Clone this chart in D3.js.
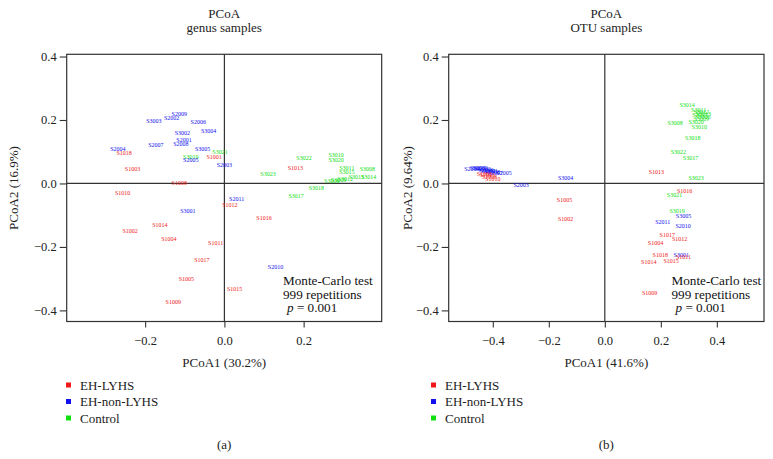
<!DOCTYPE html>
<html><head><meta charset="utf-8">
<script src="https://cdn.jsdelivr.net/npm/d3@7"></script>
<style>
body{margin:0;background:#fff;}
svg text{font-family:"Liberation Serif","DejaVu Serif",serif;}
</style></head>
<body><svg id="c" width="773" height="459"></svg>
<script>
const groups = ["EH-LYHS","EH-non-LYHS","Control"];
const groupColors = ["#f01818","#1010f0","#10e010"];
const ticksX_A = [-0.2,0.0,0.2];
const ticksX_B = [-0.4,-0.2,0.0,0.2,0.4];
const ticksY = [-0.4,-0.2,0.0,0.2,0.4];

// [label, group index, PCoA1, PCoA2]
const genusSamples = [
 ["S2009",1,-0.114,0.218],["S2002",1,-0.133,0.208],["S3003",1,-0.178,0.198],["S2006",1,-0.066,0.194],
 ["S3004",1,-0.040,0.165],["S3002",1,-0.106,0.158],["S2001",1,-0.102,0.138],["S2008",1,-0.110,0.126],
 ["S2007",1,-0.173,0.120],["S2004",1,-0.269,0.110],["S1018",0,-0.253,0.097],["S3005",1,-0.055,0.110],
 ["S3021",2,-0.011,0.099],["S1001",0,-0.026,0.084],["S3019",2,-0.085,0.083],["S2005",1,-0.085,0.075],
 ["S2003",1,0.000,0.058],["S1003",0,-0.232,0.047],["S1008",0,-0.114,0.003],["S1010",0,-0.257,-0.030],
 ["S2011",1,0.031,-0.048],["S1012",0,0.014,-0.069],["S3001",1,-0.092,-0.085],["S1016",0,0.100,-0.108],
 ["S1014",0,-0.163,-0.132],["S1002",0,-0.238,-0.148],["S1004",0,-0.140,-0.174],["S1011",0,-0.022,-0.187],
 ["S1017",0,-0.057,-0.240],["S2010",1,0.129,-0.262],["S1005",0,-0.096,-0.302],["S1015",0,0.026,-0.331],
 ["S1009",0,-0.129,-0.373],["S3022",2,0.201,0.079],["S3010",2,0.282,0.091],["S3020",2,0.282,0.075],
 ["S1013",0,0.179,0.050],["S3011",2,0.309,0.050],["S3015",2,0.309,0.037],["S3008",2,0.361,0.045],
 ["S3023",2,0.110,0.029],["S3014",2,0.364,0.020],["S3013",2,0.333,0.021],["S3012",2,0.305,0.014],
 ["S3009",2,0.288,0.010],["S3006",2,0.271,0.007],["S3018",2,0.232,-0.013],["S3017",2,0.181,-0.040]
];
const otuSamples = [
 ["S2004",1,-0.475,0.046],["S3003",1,-0.455,0.050],["S2009",1,-0.445,0.049],["S2002",1,-0.435,0.046],
 ["S2006",1,-0.425,0.043],["S3002",1,-0.418,0.040],["S2001",1,-0.410,0.038],["S2008",1,-0.402,0.036],
 ["S2007",1,-0.392,0.034],["S2005",1,-0.360,0.034],["S1001",0,-0.430,0.030],["S1003",0,-0.420,0.026],
 ["S1008",0,-0.412,0.022],["S1010",0,-0.400,0.013],["S2003",1,-0.299,-0.005],["S3004",1,-0.140,0.017],
 ["S1005",0,-0.144,-0.053],["S1002",0,-0.140,-0.113],["S1013",0,0.184,0.037],["S1016",0,0.285,-0.024],
 ["S3021",2,0.249,-0.035],["S3019",2,0.258,-0.085],["S3005",1,0.281,-0.102],["S2011",1,0.207,-0.120],
 ["S2010",1,0.280,-0.133],["S1017",0,0.223,-0.161],["S1012",0,0.267,-0.175],["S1004",0,0.181,-0.186],
 ["S1018",0,0.198,-0.226],["S3001",1,0.273,-0.224],["S1011",0,0.281,-0.232],["S1014",0,0.157,-0.246],
 ["S1015",0,0.237,-0.243],["S1009",0,0.160,-0.346],["S3014",2,0.294,0.246],["S3011",2,0.335,0.232],
 ["S3012",2,0.345,0.226],["S3013",2,0.352,0.220],["S3015",2,0.340,0.215],["S3006",2,0.350,0.210],
 ["S3009",2,0.345,0.205],["S3008",2,0.251,0.192],["S3020",2,0.326,0.195],["S3010",2,0.338,0.178],
 ["S3018",2,0.314,0.142],["S3022",2,0.263,0.100],["S3017",2,0.306,0.079],["S3023",2,0.326,0.019]
];

const svg = d3.select("#c");
const ink = "#333";

function panel(o){
  const x = d3.scaleLinear().domain(o.xd).range([o.x0,o.x1]);
  const y = d3.scaleLinear().domain([-0.435,0.407]).range([321.5,54.3]);
  const g = svg.append("g");
  g.append("text").attr("x",(o.x0+o.x1)/2).attr("y",17.5).attr("text-anchor","middle")
    .attr("font-size",13).attr("fill","#222").text("PCoA");
  g.append("text").attr("x",(o.x0+o.x1)/2).attr("y",31.5).attr("text-anchor","middle")
    .attr("font-size",13).attr("fill","#222").text(o.sub);
  g.append("rect").attr("x",o.x0).attr("y",54.3).attr("width",o.x1-o.x0).attr("height",321.5-54.3)
    .attr("fill","none").attr("stroke",ink).attr("stroke-width",1.2);
  g.append("line").attr("x1",x(0)).attr("x2",x(0)).attr("y1",54.3).attr("y2",321.5).attr("stroke",ink).attr("stroke-width",1.2);
  g.append("line").attr("x1",o.x0).attr("x2",o.x1).attr("y1",y(0)).attr("y2",y(0)).attr("stroke",ink).attr("stroke-width",1.2);
  const ax = g.append("g").attr("transform",`translate(0,${321.5})`)
    .call(d3.axisBottom(x).tickValues(o.xt).tickSize(6).tickPadding(9).tickFormat(d3.format(".1f")));
  const ay = g.append("g").attr("transform",`translate(${o.x0},0)`)
    .call(d3.axisLeft(y).tickValues(ticksY).tickSize(7).tickPadding(3).tickFormat(d3.format(".1f")));
  [ax,ay].forEach(a=>{
    a.select(".domain").remove();
    a.selectAll("line").attr("stroke",ink).attr("stroke-width",1.1);
    a.selectAll("text").attr("font-size",12.5).attr("fill","#222")
      .style("font-family","'Liberation Serif',serif").text(d=>d3.format(".1f")(d).replace("-","\u2212"));
  });
  g.append("text").attr("x",(o.x0+o.x1)/2).attr("y",366.5).attr("text-anchor","middle")
    .attr("font-size",13).attr("fill","#222").text(o.xl);
  g.append("text").attr("transform",`translate(${o.yx},188) rotate(-90)`).attr("text-anchor","middle")
    .attr("font-size",13).attr("fill","#222").text(o.yl);
  g.append("g").selectAll("text").data(o.data).join("text")
    .attr("x",d=>x(d[2])).attr("y",d=>y(d[3])).attr("dy","0.35em")
    .attr("text-anchor","middle").attr("font-size",6).attr("fill",d=>groupColors[d[1]]).text(d=>d[0]);
  const ann = g.append("text").attr("font-size",13.2).attr("fill","#111");
  ann.append("tspan").attr("x",o.ax).attr("y",285).text("Monte-Carlo test");
  ann.append("tspan").attr("x",o.ax).attr("y",298.5).text("999 repetitions");
  const p = ann.append("tspan").attr("x",o.ax+4).attr("y",312);
  p.append("tspan").attr("font-style","italic").text("p");
  p.append("tspan").text(" = 0.001");
  const lg = g.append("g");
  groups.forEach((nm,i)=>{
    lg.append("rect").attr("x",o.lx).attr("y",382.5+i*16.5).attr("width",5).attr("height",5).attr("fill",groupColors[i]);
    lg.append("text").attr("x",o.lx+14).attr("y",389.5+i*16.5).attr("font-size",13).attr("fill","#222").text(nm);
  });
  g.append("text").attr("x",(o.x0+o.x1)/2).attr("y",449).attr("text-anchor","middle")
    .attr("font-size",13).attr("fill","#222").text(o.tag);
}

panel({xd:[-0.398,0.397],x0:66.7,x1:381.7,xt:ticksX_A,sub:"genus samples",data:genusSamples,
  xl:"PCoA1 (30.2%)",yl:"PCoA2 (16.9%)",yx:18,ax:283,lx:66,tag:"(a)"});
panel({xd:[-0.5575,0.5685],x0:448.7,x1:764,xt:ticksX_B,sub:"OTU samples",data:otuSamples,
  xl:"PCoA1 (41.6%)",yl:"PCoA2 (9.64%)",yx:412,ax:671.5,lx:431,tag:"(b)"});
</script></body></html>
